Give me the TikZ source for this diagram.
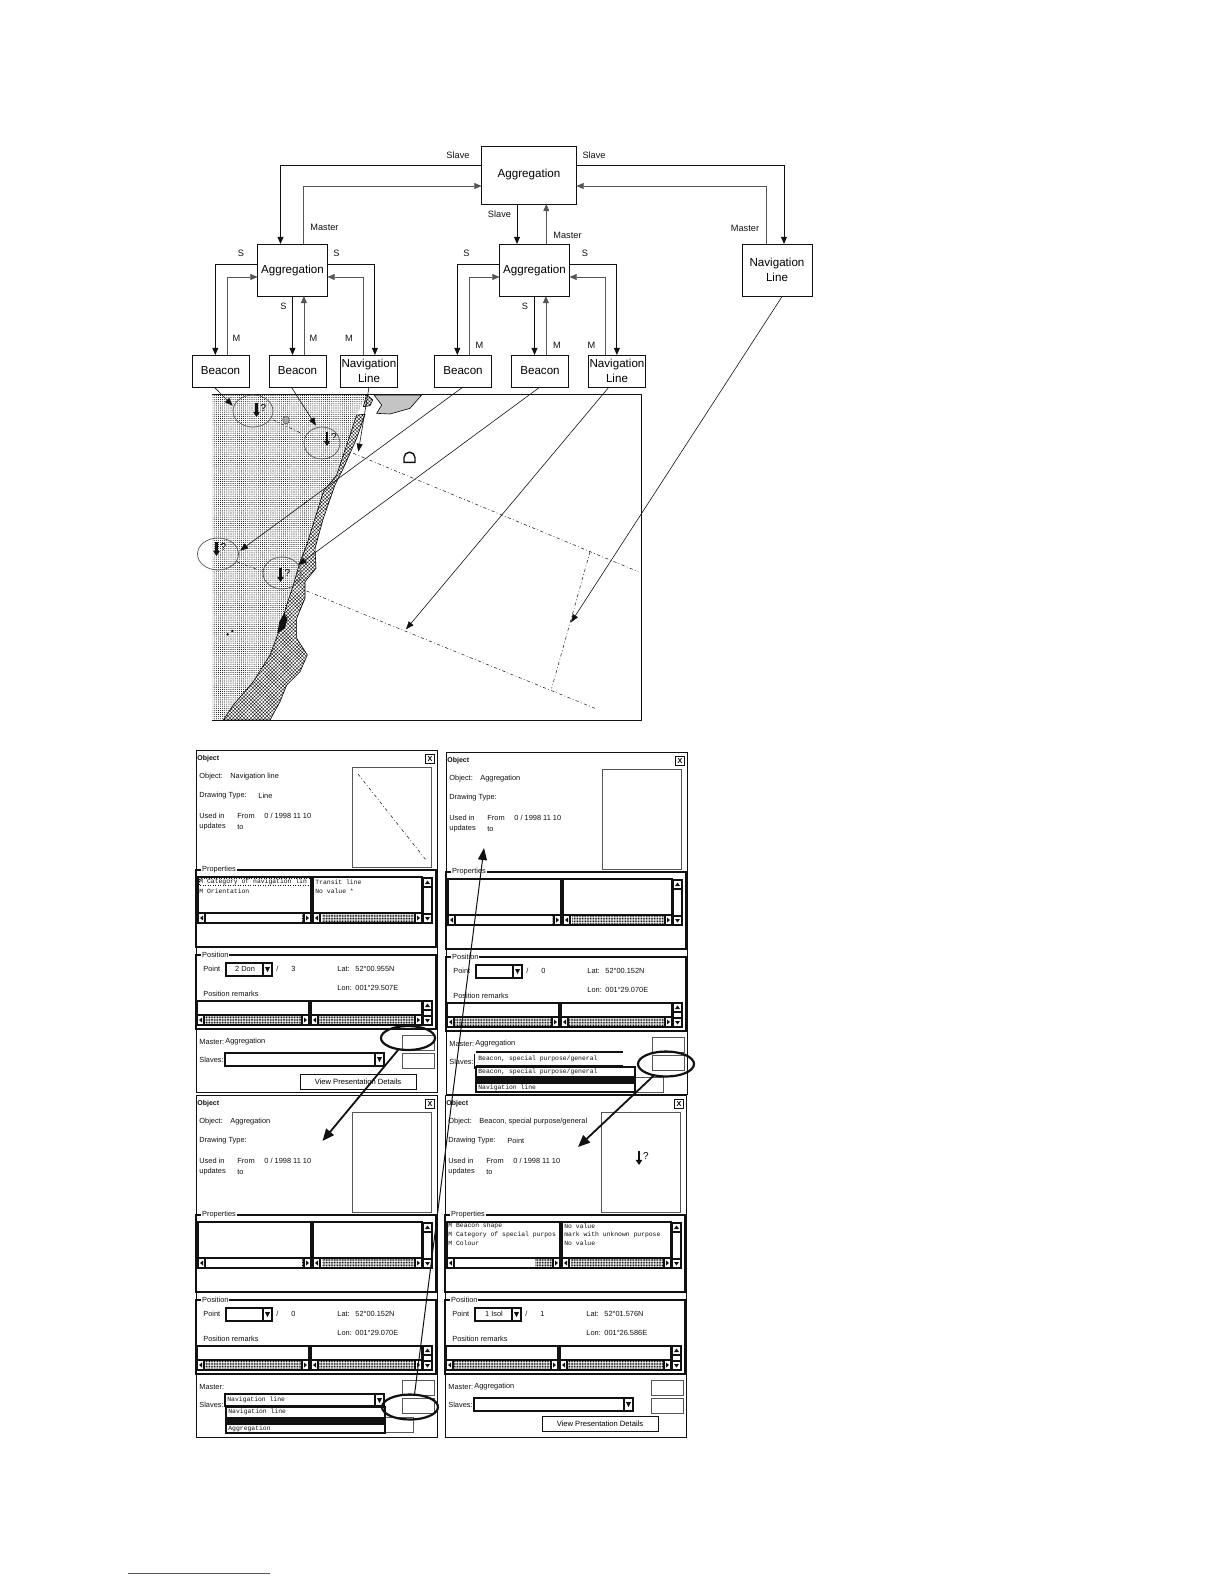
\documentclass[tikz,border=0pt]{standalone}
\usepackage{fontspec}
\setmainfont{Liberation Sans}
\setmonofont{Liberation Mono}
\usetikzlibrary{arrows.meta, shapes.geometric, patterns.meta}
\definecolor{Ink}{HTML}{111111}
\definecolor{Soft}{HTML}{555555}
\tikzset{
    objbox/.style={rectangle, draw=Ink, fill=white, line width=0.5pt, inner sep=0pt, outer sep=0pt, align=center, font=\fontsize{5.8}{7.6}\selectfont},
    tag/.style={inner sep=0pt, text=Ink, font=\fontsize{4.6}{5.5}\selectfont},
    slavelink/.style={-{Triangle[length=3.6pt,width=3pt]}, line width=0.42pt, color=Ink},
    masterlink/.style={-{Triangle[length=3.6pt,width=3pt]}, line width=0.35pt, color=Soft},
    maplink/.style={-{Triangle[length=4pt,width=3pt]}, line width=0.3pt, color=Ink},
    boldlink/.style={-{Triangle[length=6pt,width=5pt]}, line width=0.9pt, color=Ink},
    beaconring/.style={ellipse, draw=Soft, line width=0.35pt, inner sep=0pt, outer sep=0pt},
    calloutring/.style={ellipse, draw=Ink, line width=1.1pt, inner sep=0pt, outer sep=0pt},
    chartline/.style={dash pattern=on 1.6pt off 1.2pt on 0.4pt off 1.2pt, line width=0.25pt, color=Ink},
    beacondrop/.style={-{Triangle[length=2.6pt,width=3.2pt]}, line width=1.1pt, color=Ink},
    markq/.style={inner sep=0pt, font=\fontsize{5}{6}\selectfont},
    paneltext/.style={anchor=west, inner sep=0pt, text=Ink, font=\fontsize{3.7}{4.5}\selectfont},
    titletext/.style={anchor=west, inner sep=0pt, text=Ink, font=\bfseries\fontsize{3.5}{4.5}\selectfont},
    monotext/.style={anchor=west, inner sep=0pt, text=Ink, font=\ttfamily\fontsize{3.2}{4}\selectfont},
    legendtext/.style={anchor=west, inner sep=0.4pt, fill=white, text=Ink, font=\fontsize{3.7}{4.5}\selectfont},
    panelframe/.style={draw=Ink, line width=0.5pt, fill=white},
    groupframe/.style={draw=Ink, line width=0.8pt},
    listedge/.style={draw=Ink, line width=0.55pt},
    thinbox/.style={draw=Soft, line width=0.35pt, fill=white},
    darkbar/.style={pattern={Dots[distance=0.8pt,radius=0.3pt]}, pattern color=black},
    closebox/.style={rectangle, draw=Ink, line width=0.5pt, minimum size=4.6pt, inner sep=0pt, font=\bfseries\fontsize{3.6}{4}\selectfont},
    viewbutton/.style={rectangle, draw=Ink, line width=0.5pt, fill=white, inner sep=0pt, minimum width=58pt, minimum height=7.6pt, font=\fontsize{3.8}{4.5}\selectfont},
}

% horizontal scrollbar: x1, x2, y, start of dark part
\newcommand\hscrollbar[4]{%
    \draw[listedge, fill=white] (#1,#3) rectangle (#2,#3+10);
    \fill[darkbar] (#4,#3) rectangle (#2-7,#3+10);
    \draw[listedge, fill=white] (#1,#3) rectangle (#1+7,#3+10);
    \draw[listedge, fill=white] (#2-7,#3) rectangle (#2,#3+10);
    \fill[Ink] (#1+2,#3+5) -- (#1+5,#3+2.5) -- (#1+5,#3+7.5) -- cycle;
    \fill[Ink] (#2-2,#3+5) -- (#2-5,#3+2.5) -- (#2-5,#3+7.5) -- cycle;
}
% vertical scrollbar: x1, x2, y1, y2
\newcommand\vscrollbar[4]{%
    \draw[listedge, fill=white] (#1,#3) rectangle (#2,#4);
    \draw[listedge] (#1,#3+9) -- (#2,#3+9) (#1,#4-9) -- (#2,#4-9);
    \fill[Ink] (#1+4.5,#3+2.5) -- (#1+2,#3+6) -- (#1+7,#3+6) -- cycle;
    \fill[Ink] (#1+4.5,#4-2.5) -- (#1+2,#4-6) -- (#1+7,#4-6) -- cycle;
}
% panel name, x, y, object, drawing type, lat, lon, point, count
\newcommand\objectpanel[9]{%
    \begin{scope}[shift={(#2,#3)}, name prefix=#1-]
        \draw[panelframe] (0,0) rectangle (241,342);
        \node[titletext] (title) at (1,9) {Object};
        \node[closebox] (close) at (234,9) {X};
        \node[paneltext] (objlabel) at (3,27) {Object:};
        \node[paneltext] (objvalue) at (34,27) {#4};
        \node[paneltext] (typelabel) at (3,46) {Drawing Type:};
        \node[paneltext] (typevalue) at (62,46) {#5};
        \node[paneltext] (usedlabel) at (3,66) {Used in};
        \node[paneltext] (fromlabel) at (41,66) {From};
        \node[paneltext] (fromvalue) at (68,66) {0 / 1998 11 10};
        \node[paneltext] (updlabel) at (3,77) {updates};
        \node[paneltext] (tolabel) at (41,77) {to};
        \draw[thinbox] (156,17) rectangle (235,117);
        % Properties
        \draw[groupframe] (0,120) rectangle (240,197);
        \node[legendtext] (proplegend) at (5,120) {Properties};
        \draw[listedge] (2,127) rectangle (115,173);
        \draw[listedge] (117,127) rectangle (226,173);
        \hscrollbar{2}{115}{163}{106}
        \hscrollbar{117}{226}{163}{126}
        \vscrollbar{227}{236}{128}{173}
        % Position
        \draw[groupframe] (0,205) rectangle (240,279);
        \node[legendtext] (poslegend) at (5,205) {Position};
        \node[paneltext] (pointlabel) at (7,219) {Point};
        \draw[listedge, line width=0.7pt, fill=white] (30,213) rectangle (76,226);
        \draw[listedge, fill=white] (67,213) rectangle (76,226);
        \fill[Ink] (69,217) -- (74,217) -- (71.5,222) -- cycle;
        \node[paneltext, anchor=center] (pointvalue) at (49,219) {#8};
        \node[paneltext] (slash) at (80,219) {/};
        \node[paneltext] (count) at (95,219) {#9};
        \node[paneltext] (latlabel) at (141,219) {Lat:};
        \node[paneltext] (latvalue) at (159,219) {#6};
        \node[paneltext] (lonlabel) at (141,238) {Lon:};
        \node[paneltext] (lonvalue) at (159,238) {#7};
        \node[paneltext] (remarks) at (7,244) {Position remarks};
        \draw[listedge] (1,251) rectangle (113,275);
        \draw[listedge] (115,251) rectangle (226,275);
        \hscrollbar{1}{113}{265}{8}
        \hscrollbar{115}{226}{265}{122}
        \vscrollbar{227}{236}{251}{275}
        % Master and slaves
        \node[paneltext] (masterlabel) at (3,292) {Master:};
        \node[paneltext] (slaveslabel) at (3,310) {Slaves:};
        \draw[listedge, fill=white] (29,303) rectangle (188,316);
        \draw[listedge, fill=white] (179,303) rectangle (188,316);
        \fill[Ink] (181,307) -- (186,307) -- (183.5,312) -- cycle;
        \draw[thinbox] (206,285) rectangle (238,300);
        \draw[thinbox] (206,303) rectangle (238,318);
    \end{scope}
}

\begin{document}
\begin{tikzpicture}[x=0.5pt, y=-0.5pt]
    \useasboundingbox (0,0) rectangle (1224,1584);

    % Chart, in the units of a 3x crop
    \begin{scope}[shift={(190,385)}, x=0.16667pt, y=-0.16667pt]
        \fill[pattern={Dots[distance=1.05pt,radius=0.27pt]}, pattern color=black]
            (67,28) -- (530,28) -- (500,90) -- (470,180) -- (440,270) -- (400,320) -- (375,400) -- (350,480)
            -- (330,530) -- (310,600) -- (290,660) -- (270,730) -- (240,810) -- (190,890) -- (130,960)
            -- (100,1005) -- (67,1005) -- cycle;
        \draw[line width=0.3pt, pattern={Hatch[distance=1.25pt,angle=45,line width=0.16pt]}, pattern color=black]
            (525,88) -- (500,160) -- (460,250) -- (435,300) -- (400,400) -- (375,490) -- (378,550)
            -- (345,590) -- (345,640) -- (320,700) -- (320,760) -- (352,810) -- (330,860) -- (290,900)
            -- (270,950) -- (240,1005) -- (100,1005) -- (130,960) -- (190,890) -- (240,810) -- (270,730)
            -- (290,660) -- (310,600) -- (330,530) -- (350,480) -- (375,400) -- (400,320) -- (440,270)
            -- (470,180) -- (500,90) -- cycle;
        \draw[line width=0.3pt, pattern={Hatch[distance=1.25pt,angle=45,line width=0.16pt]}, pattern color=black]
            (530,28) -- (548,45) -- (540,62) -- (520,65) -- cycle;
        \draw[line width=0.3pt, pattern={Dots[distance=1pt,radius=0.28pt]}, pattern color=black]
            (552,30) -- (695,30) -- (660,70) -- (600,87) -- (560,85) -- (575,60) -- cycle;
        % frame
        \draw[Ink, line width=0.45pt] (67,28) -- (1355,28) -- (1355,1005) -- (67,1005);
        % chart lines
        \draw[chartline] (250,105) -- (345,150);
        \draw[chartline] (490,205) -- (1345,560);
        \draw[chartline] (140,530) -- (220,560);
        \draw[chartline] (350,618) -- (1215,970);
        \draw[chartline] (1200,500) -- (1085,910);
        % symbols on the chart
        \fill[Ink] (262,745) -- (268,710) -- (282,685) -- (292,700) -- (285,730) -- cycle;
        \filldraw[Soft, fill=black!35, line width=0.3pt] (288,105) ellipse (10 and 12);
        \fill[Ink] (113,748) circle (4) (127,738) circle (4);
        \draw[Ink, line width=0.7pt] (642,232) -- (642,218) arc (180:360:16.5) -- (675,232) -- cycle;
        % arrow ends
        \coordinate (tipBeaconA) at (128,62);
        \coordinate (tipBeaconB) at (378,122);
        \coordinate (tipNavA) at (505,200);
        \coordinate (tipBeaconC) at (150,497);
        \coordinate (tipBeaconD) at (325,540);
        \coordinate (tipNavB) at (648,733);
        \coordinate (tipNavRight) at (1143,712);
    \end{scope}

    % Beacons on the chart
    \node[beaconring, minimum width=20pt, minimum height=16pt] (ringOne) at (253,411) {};
    \node[beaconring, minimum width=18pt, minimum height=16pt] (ringTwo) at (322,443) {};
    \node[beaconring, minimum width=20.5pt, minimum height=16pt] (ringThree) at (218,554) {};
    \node[beaconring, minimum width=19pt, minimum height=16pt] (ringFour) at (282,573) {};

    % Tree of aggregations
    \node[objbox, minimum width=47.5pt, minimum height=29pt] (aggTop) at (529,175) {Aggregation};
    \node[objbox, minimum width=35pt, minimum height=26pt] (aggLeft) at (292.5,270) {Aggregation};
    \node[objbox, minimum width=35pt, minimum height=26pt] (aggMid) at (534.5,270) {Aggregation};
    \node[objbox, minimum width=35pt, minimum height=26pt] (navRight) at (777,270) {Navigation\\Line};
    \node[objbox, minimum width=28.5pt, minimum height=16pt] (beaconA) at (220.5,371) {Beacon};
    \node[objbox, minimum width=28.5pt, minimum height=16pt] (beaconB) at (297.5,371) {Beacon};
    \node[objbox, minimum width=28.5pt, minimum height=16pt] (navA) at (369,371) {Navigation\\Line};
    \node[objbox, minimum width=28.5pt, minimum height=16pt] (beaconC) at (463,371) {Beacon};
    \node[objbox, minimum width=28.5pt, minimum height=16pt] (beaconD) at (540,371) {Beacon};
    \node[objbox, minimum width=28.5pt, minimum height=16pt] (navB) at (617,371) {Navigation\\Line};

    \draw[slavelink] ([yshift=5pt]aggTop.west) -| ([xshift=-6pt]aggLeft.north);
    \draw[masterlink] ([xshift=5.5pt]aggLeft.north) |- ([yshift=-5.5pt]aggTop.west);
    \draw[slavelink] ([yshift=5pt]aggTop.east) -| ([xshift=3.5pt]navRight.north);
    \draw[masterlink] ([xshift=-5.4pt]navRight.north) |- ([yshift=-5.5pt]aggTop.east);
    \draw[slavelink] ([xshift=-6pt]aggTop.south) -- ([xshift=-6pt]aggTop.south |- aggMid.north);
    \draw[masterlink] ([xshift=5.9pt]aggMid.north) -- ([xshift=5.9pt]aggMid.north |- aggTop.south);

    \foreach \agg/\beaconl/\beaconm/\nav in {aggLeft/beaconA/beaconB/navA, aggMid/beaconC/beaconD/navB} {
        \draw[slavelink] ([yshift=3pt]\agg.west) -| ([xshift=-38.6pt]\agg.south |- \beaconl.north);
        \draw[masterlink] ([xshift=-32.6pt]\agg.south |- \beaconl.north) |- ([yshift=-3.5pt]\agg.west);
        \draw[slavelink] (\agg.south) -- (\agg.south |- \beaconm.north);
        \draw[masterlink] ([xshift=5.7pt]\agg.south |- \beaconm.north) -- ([xshift=5.7pt]\agg.south);
        \draw[slavelink] ([yshift=3pt]\agg.east) -| ([xshift=41.2pt]\agg.south |- \nav.north);
        \draw[masterlink] ([xshift=35.5pt]\agg.south |- \nav.north) |- ([yshift=-3.5pt]\agg.east);
    }

    % Labels on the tree
    \node[tag] (slaveL) at (458,155) {Slave};
    \node[tag] (slaveR) at (594,155) {Slave};
    \node[tag] (slaveM) at (499.5,214) {Slave};
    \node[tag] (masterL) at (324.5,227) {Master};
    \node[tag] (masterM) at (567.5,235) {Master};
    \node[tag] (masterR) at (745,228) {Master};
    \foreach \n/\x/\y/\t in {a/241/253/S, b/336.5/253/S, c/466.5/253/S, d/585/253/S, e/283.5/306/S, f/525/306/S,
        g/236.5/338/M, h/313.5/338/M, i/349/338/M, j/479.5/345/M, k/557/345/M, l/591.5/345/M}
        \node[tag] (tag\n) at (\x,\y) {\t};

    % Links from the tree to the chart
    \draw[maplink] ([xshift=-3.2pt]beaconA.south) -- (tipBeaconA);
    \draw[maplink] ([xshift=-3.1pt]beaconB.south) -- (tipBeaconB);
    \draw[maplink] (navA.south) -- (tipNavA);
    \draw[maplink] (beaconC.south) -- (tipBeaconC);
    \draw[maplink] (beaconD.south) -- (tipBeaconD);
    \draw[maplink] ([xshift=-4pt]navB.south) -- (tipNavB);
    \draw[maplink] ([xshift=2.7pt]navRight.south) -- (tipNavRight);

    % Object panels
    \objectpanel{pa}{196}{750}{Navigation line}{Line}{52°00.955N}{001°29.507E}{2 Don}{3}
    \objectpanel{pb}{446}{752}{Aggregation}{}{52°00.152N}{001°29.070E}{}{0}
    \objectpanel{pc}{196}{1095}{Aggregation}{}{52°00.152N}{001°29.070E}{}{0}
    \objectpanel{pd}{445}{1095}{Beacon, special purpose/general}{Point}{52°01.576N}{001°26.586E}{1 Isol}{1}

    % Panel A
    \begin{scope}[shift={(196,750)}, name prefix=pa-]
        \draw[chartline] (162,24) -- (230,110);
        \draw[Ink, line width=0.25pt, densely dotted] (3,128.5) rectangle (114,135);
        \node[monotext] (rowa) at (3,132) {M Category of navigation lin};
        \node[monotext] (rowb) at (3,141) {M Orientation};
        \node[monotext] (vala) at (119,132) {Transit line};
        \node[monotext] (valb) at (119,141) {No value *};
        \node[paneltext] (mastervalue) at (29,292) {Aggregation};
        \node[viewbutton] (view) at (162,332) {View Presentation Details};
    \end{scope}

    % Panel B
    \begin{scope}[shift={(446,752)}, name prefix=pb-]
        \node[paneltext] (mastervalue) at (29,292) {Aggregation};
        \fill[white] (29,298.5) rectangle (190,316);
        \draw[Ink, line width=0.8pt] (30,300) -- (177,300) (30,314) -- (177,314);
        \node[monotext] (combo) at (32,307) {Beacon, special purpose/general};
        \draw[thinbox] (186,325) rectangle (217,340);
        \draw[listedge, fill=white] (30,315) rectangle (189,340);
        \fill[Ink] (30,324) rectangle (189,332);
        \node[monotext] (rowa) at (32,320) {Beacon, special purpose/general};
        \node[monotext] (rowb) at (32,336) {Navigation line};
    \end{scope}

    % Panel C
    \begin{scope}[shift={(196,1095)}, name prefix=pc-]
        \fill[white] (28,298) rectangle (190,318);
        \draw[listedge, fill=white] (29,299) rectangle (188,311);
        \draw[listedge, fill=white] (179,299) rectangle (188,311);
        \fill[Ink] (181,303) -- (186,303) -- (183.5,308) -- cycle;
        \node[monotext] (combo) at (31,305) {Navigation line};
        \draw[thinbox] (189,322) rectangle (217,337);
        \draw[listedge, fill=white] (30,312) rectangle (189,338);
        \fill[Ink] (30,322) rectangle (189,330);
        \node[monotext] (rowa) at (32,317) {Navigation line};
        \node[monotext] (rowb) at (32,334) {Aggregation};
    \end{scope}

    % Panel D
    \begin{scope}[shift={(445,1095)}, name prefix=pd-]
        \fill[darkbar] (90,163) rectangle (106,173);
        \node[monotext] (rowa) at (3,131) {M Beacon shape};
        \node[monotext] (rowb) at (3,139.5) {M Category of special purpos};
        \node[monotext] (rowc) at (3,148) {M Colour};
        \node[monotext] (vala) at (119,131) {No value};
        \node[monotext] (valb) at (119,139.5) {mark with unknown purpose};
        \node[monotext] (valc) at (119,148) {No value};
        \node[paneltext] (mastervalue) at (29,292) {Aggregation};
        \node[viewbutton] (view) at (155,329) {View Presentation Details};
    \end{scope}

    % Beacon marks
    \foreach \n/\x/\y in {a/256.5/410, b/327/439, c/216.5/549, d/280.5/575, e/639/1158}{
        \draw[beacondrop] (\x,\y-7) -- (\x,\y+7);
        \node[markq] (qmark\n) at (\x+7,\y-2) {?};
    }

    % Callouts between panels
    \node[calloutring, minimum width=27pt, minimum height=12pt] (ringA) at (408,1038) {};
    \node[calloutring, minimum width=28pt, minimum height=12.5pt] (ringB) at (666,1064) {};
    \node[calloutring, minimum width=28pt, minimum height=12.5pt] (ringC) at (410,1407) {};
    \coordinate (tipPanelB) at (484,848);
    \coordinate (tipPanelC) at (322.5,1141);
    \coordinate (tipPanelD) at (578,1147);
    \draw[boldlink] (ringA) -- (tipPanelC);
    \draw[boldlink] (ringB) -- (tipPanelD);
    \draw[maplink, line width=0.5pt, -{Triangle[length=6pt,width=4.5pt]}] (ringC.70) -- (tipPanelB);

    % Rule at the foot of the page
    \coordinate (ruleL) at (128,1573);
    \coordinate (ruleR) at (270,1573);
    \draw[Soft, line width=0.4pt] (ruleL) -- (ruleR);
\end{tikzpicture}
\end{document}
